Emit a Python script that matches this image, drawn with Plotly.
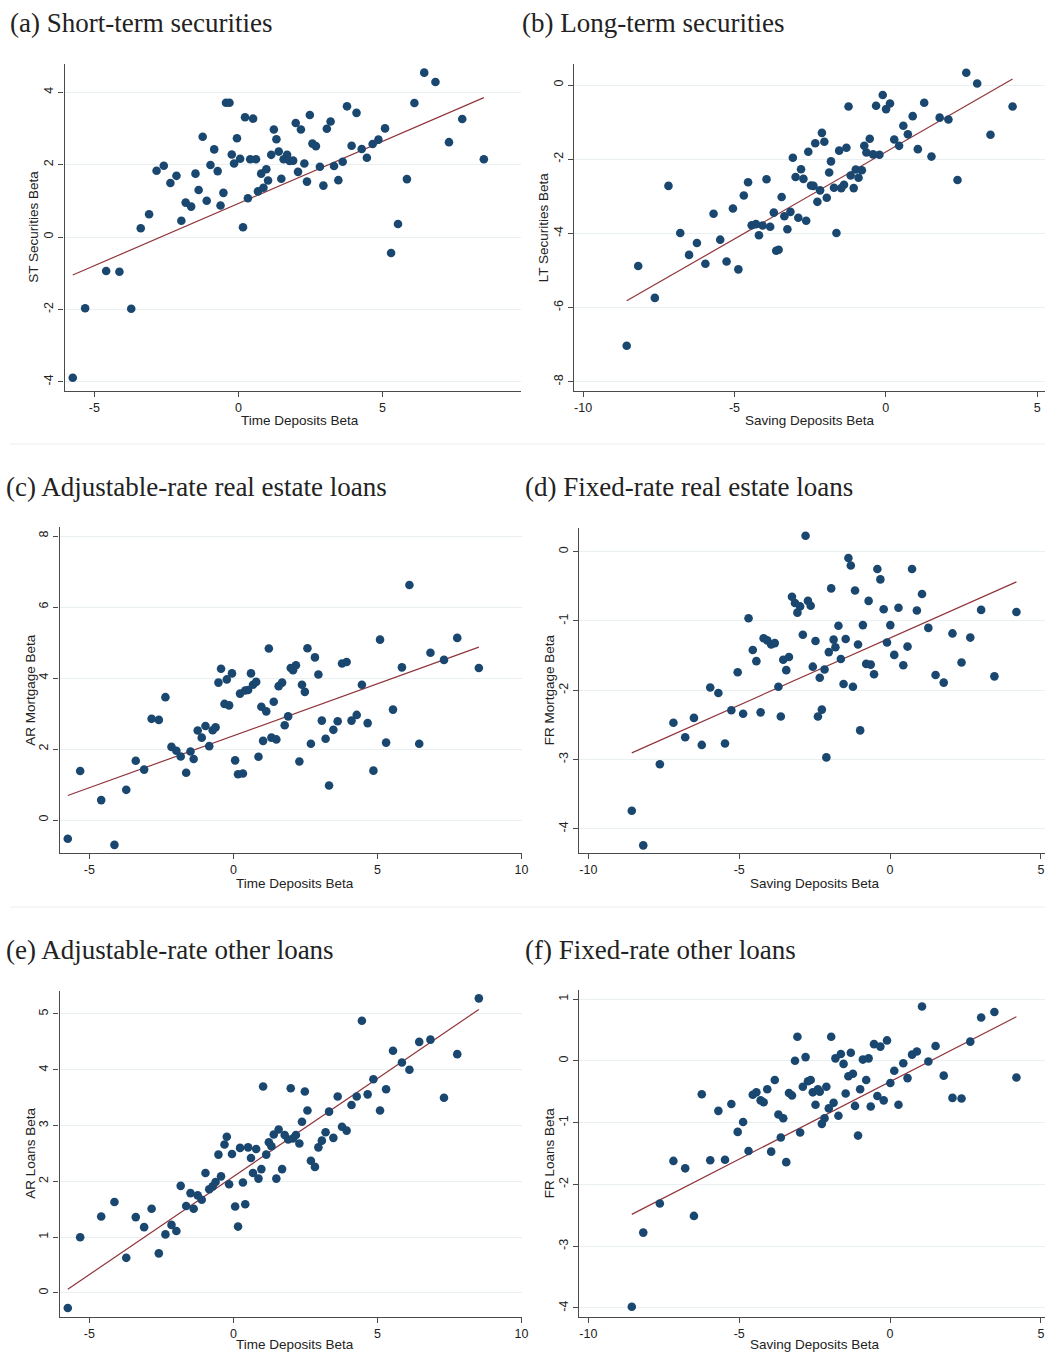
import numpy as np
import plotly.graph_objects as go

# ---------------- data ----------------
time_beta = [-5.75, -5.32, -4.59, -4.13, -3.72, -3.39, -3.10, -2.84, -2.59, -2.36,
             -2.15, -1.98, -1.83, -1.64, -1.49, -1.38, -1.24, -1.10, -0.97, -0.84,
             -0.72, -0.62, -0.52, -0.43, -0.31, -0.23, -0.15, -0.05, 0.06, 0.16,
             0.23, 0.33, 0.41, 0.51, 0.61, 0.68, 0.79, 0.87, 0.97, 1.03,
             1.14, 1.23, 1.32, 1.40, 1.49, 1.57, 1.69, 1.78, 1.90, 1.99,
             2.07, 2.17, 2.29, 2.38, 2.48, 2.57, 2.69, 2.83, 2.95, 3.07,
             3.20, 3.32, 3.47, 3.62, 3.77, 3.93, 4.10, 4.28, 4.46, 4.66,
             4.86, 5.09, 5.30, 5.54, 5.85, 6.11, 6.45, 6.84, 7.31, 7.77, 8.52]

st_beta = [-3.89, -1.97, -0.94, -0.96, -1.98, 0.24, 0.63, 1.83, 1.97, 1.49,
           1.69, 0.45, 0.95, 0.84, 1.75, 1.30, 2.77, 1.00, 1.99, 2.42,
           1.82, 0.87, 1.22, 3.71, 3.71, 2.28, 2.03, 2.73, 2.16, 0.27,
           3.31, 1.07, 2.15, 3.27, 2.15, 1.26, 1.75, 1.36, 1.87, 1.56,
           2.27, 2.97, 2.70, 2.36, 1.61, 2.15, 2.27, 2.10, 2.11, 3.15,
           1.80, 2.97, 2.03, 1.53, 3.37, 2.58, 2.51, 1.94, 1.42, 2.99,
           3.19, 1.96, 1.57, 2.08, 3.61, 2.52, 3.43, 2.43, 2.19, 2.57,
           2.69, 3.00, -0.44, 0.36, 1.60, 3.70, 4.54, 4.28, 2.62, 3.26, 2.15]

ar_mortgage_beta = [-0.53, 1.38, 0.56, -0.70, 0.85, 1.67, 1.42, 2.85, 2.82, 3.46,
                    2.06, 1.95, 1.79, 1.33, 1.93, 1.72, 2.52, 2.32, 2.65, 2.08,
                    2.53, 2.61, 3.87, 4.26, 3.27, 3.96, 3.23, 4.13, 1.68, 1.29,
                    3.56, 1.31, 3.65, 3.66, 4.13, 3.81, 3.89, 1.78, 3.19, 2.23,
                    3.06, 4.83, 2.32, 3.33, 2.27, 3.77, 3.87, 2.67, 2.92, 4.28,
                    4.22, 4.36, 1.65, 3.81, 3.61, 4.84, 2.15, 4.58, 4.10, 2.80,
                    2.29, 0.97, 2.54, 2.78, 4.41, 4.45, 2.80, 2.96, 3.81, 2.73,
                    1.39, 5.08, 2.18, 3.11, 4.30, 6.62, 2.15, 4.71, 4.51, 5.13, 4.28]

ar_loans_beta = [-0.27, 1.00, 1.37, 1.63, 0.63, 1.36, 1.18, 1.51, 0.71, 1.05,
                 1.22, 1.11, 1.92, 1.56, 1.79, 1.51, 1.75, 1.67, 2.15, 1.86,
                 1.91, 1.99, 2.48, 2.09, 2.66, 2.80, 1.95, 2.49, 1.55, 1.19,
                 2.60, 1.98, 1.59, 2.61, 2.42, 2.15, 2.58, 2.05, 2.22, 3.70,
                 2.48, 2.70, 2.63, 2.84, 2.05, 2.93, 2.22, 2.83, 2.75, 3.67,
                 2.77, 2.83, 2.68, 3.07, 3.61, 3.27, 2.37, 2.26, 2.61, 2.73,
                 2.88, 3.25, 2.78, 3.52, 2.98, 2.91, 3.37, 3.52, 4.88, 3.56,
                 3.83, 3.27, 3.65, 4.34, 4.13, 4.00, 4.50, 4.54, 3.50, 4.28, 5.28]

saving_beta = [-8.56, -8.18, -7.63, -7.18, -6.79, -6.50, -6.24, -5.96, -5.69, -5.47,
               -5.26, -5.05, -4.87, -4.69, -4.55, -4.43, -4.29, -4.19, -4.07, -3.94,
               -3.82, -3.70, -3.62, -3.54, -3.44, -3.35, -3.25, -3.15, -3.07, -2.98,
               -2.89, -2.80, -2.72, -2.63, -2.56, -2.47, -2.39, -2.33, -2.26, -2.17,
               -2.11, -2.03, -1.95, -1.87, -1.81, -1.71, -1.63, -1.54, -1.47, -1.38,
               -1.30, -1.23, -1.16, -1.06, -0.99, -0.90, -0.79, -0.71, -0.64, -0.53,
               -0.42, -0.32, -0.21, -0.10, 0.01, 0.14, 0.28, 0.44, 0.58, 0.73,
               0.89, 1.06, 1.27, 1.51, 1.78, 2.07, 2.37, 2.66, 3.02, 3.46, 4.19]

lt_beta = [-7.03, -4.88, -5.74, -2.72, -3.99, -4.58, -4.26, -4.82, -3.47, -4.17,
           -4.76, -3.33, -4.97, -2.98, -2.62, -3.78, -3.75, -4.05, -3.79, -2.54,
           -3.82, -3.44, -4.47, -4.44, -3.02, -3.54, -3.89, -3.42, -1.96, -2.48,
           -3.58, -2.27, -2.53, -3.66, -1.80, -2.71, -2.72, -1.57, -3.15, -2.84,
           -1.29, -1.53, -3.04, -2.36, -2.06, -2.77, -3.99, -1.77, -2.78, -2.69,
           -1.69, -0.58, -2.44, -2.78, -2.28, -2.50, -2.30, -1.64, -1.82, -1.45,
           -1.87, -0.56, -1.88, -0.27, -0.65, -0.50, -1.47, -1.64, -1.10, -1.33,
           -0.84, -1.73, -0.48, -1.93, -0.88, -0.93, -2.56, 0.33, 0.04, -1.34, -0.58]

fr_mortgage_beta = [-3.74, -4.24, -3.07, -2.47, -2.68, -2.40, -2.79, -1.96, -2.04, -2.77,
                    -2.29, -1.74, -2.34, -0.96, -1.42, -1.58, -2.32, -1.25, -1.28, -1.34,
                    -1.32, -1.95, -2.38, -1.56, -1.71, -1.52, -0.65, -0.74, -0.88, -0.79,
                    -1.20, 0.23, -0.71, -0.78, -1.66, -1.29, -2.38, -1.82, -2.28, -1.70,
                    -2.97, -1.45, -0.53, -1.27, -1.38, -1.07, -1.55, -1.91, -1.26, -0.09,
                    -0.20, -1.95, -0.56, -1.34, -2.58, -1.06, -1.62, -0.71, -1.63, -1.77,
                    -0.25, -0.40, -0.83, -1.31, -1.06, -1.49, -0.81, -1.64, -1.37, -0.25,
                    -0.85, -0.61, -1.10, -1.78, -1.89, -1.18, -1.60, -1.24, -0.84, -1.80, -0.87]

fr_loans_beta = [-3.98, -2.78, -2.31, -1.62, -1.74, -2.51, -0.54, -1.61, -0.81, -1.60,
                 -0.70, -1.15, -0.99, -1.46, -0.55, -0.51, -0.64, -0.67, -0.46, -1.47,
                 -0.31, -0.87, -1.24, -0.93, -1.64, -0.52, -0.56, 0.00, 0.39, -1.16,
                 -0.42, 0.06, -0.33, -0.31, -0.51, -0.71, -0.46, -0.50, -1.02, -0.93,
                 -0.42, -0.77, 0.39, -0.68, 0.04, -0.89, 0.11, -0.05, -0.53, -0.25,
                 0.13, -0.21, -0.73, -1.21, -0.46, 0.02, -0.31, 0.04, -0.74, 0.27,
                 -0.57, 0.23, -0.64, 0.33, -0.36, -0.16, -0.71, -0.04, -0.28, 0.10,
                 0.15, 0.88, -0.01, 0.24, -0.24, -0.60, -0.61, 0.31, 0.70, 0.79, -0.27]

# fitted-line coefficients [intercept, slope]
fit_a = [0.925, 0.3434]
fit_b = [-1.805, 0.469]
fit_c = [2.374, 0.2929]
fit_d = [-1.247, 0.1936]
fit_e = [2.087, 0.3514]
fit_f = [-0.338, 0.2508]

panel_titles = ["(a) Short-term securities", "(b) Long-term securities",
                "(c) Adjustable-rate real estate loans", "(d) Fixed-rate real estate loans",
                "(e) Adjustable-rate other loans", "(f) Fixed-rate other loans"]
x_titles = ["Time Deposits Beta", "Saving Deposits Beta"] * 3
y_titles = ["ST Securities Beta", "LT Securities Beta", "AR Mortgage Beta",
            "FR Mortgage Beta", "AR Loans Beta", "FR Loans Beta"]
x_ticks = [[-5, 0, 5, 10], [-10, -5, 0, 5], [-5, 0, 5, 10], [-10, -5, 0, 5],
           [-5, 0, 5, 10], [-10, -5, 0, 5]]
y_ticks = [[-4, -2, 0, 2, 4], [-8, -6, -4, -2, 0], [0, 2, 4, 6, 8],
           [-4, -3, -2, -1, 0], [0, 1, 2, 3, 4, 5], [-4, -3, -2, -1, 0, 1]]
xs = [time_beta, saving_beta] * 3
ys = [st_beta, lt_beta, ar_mortgage_beta, fr_mortgage_beta, ar_loans_beta, fr_loans_beta]
fits = [fit_a, fit_b, fit_c, fit_d, fit_e, fit_f]

# ---------------- layout geometry (pixels) ----------------
W, H = 1052, 1353
geo = [
    dict(px=(65, 524.5), py=(64.3, 391), xr=(-6.034, 9.81), yr=(-4.254, 4.771)),
    dict(px=(578, 1052), py=(64.3, 391), xr=(-10.296, 5.261), yr=(-8.25, 0.558)),
    dict(px=(60, 525), py=(526.7, 853.3), xr=(-6.034, 10.001), yr=(-0.938, 8.262)),
    dict(px=(583.3, 1052), py=(528.3, 853.3), xr=(-10.296, 5.137), yr=(-4.355, 0.338)),
    dict(px=(60, 525), py=(991, 1316.7), xr=(-6.034, 10.001), yr=(-0.425, 5.412)),
    dict(px=(583.3, 1052), py=(990, 1316.7), xr=(-10.296, 5.137), yr=(-4.141, 1.146)),
]
title_pos = [(8, 23), (523, 23), (4, 487), (527, 487), (4, 950), (527, 950)]
xtitle_pos = [(302, 420), (815, 420), (297, 883), (820, 883), (297, 1344), (820, 1344)]
ytitle_pos = [(34, 227), (548, 227), (30, 690), (553, 690), (30, 1153), (553, 1153)]

def fx(p):
    return p / W

def fy(p):
    return 1 - p / H

NAVY = "#1a476f"
MAROON = "#90353b"
AXC = "#4a4a4a"
SANS = "Liberation Sans, Arial"

fig = go.Figure()
layout = dict(width=W, height=H, margin=dict(l=0, r=0, t=0, b=0),
              paper_bgcolor="white", plot_bgcolor="white", showlegend=False)
annotations = []
shapes = []

for i in range(6):
    g = geo[i]
    xa = "xaxis" if i == 0 else f"xaxis{i+1}"
    ya = "yaxis" if i == 0 else f"yaxis{i+1}"
    xref = "x" if i == 0 else f"x{i+1}"
    yref = "y" if i == 0 else f"y{i+1}"
    x = np.array(xs[i], dtype=float)
    y = np.array(ys[i], dtype=float)
    icpt, slope = fits[i]
    xl = np.array([x.min(), x.max()])
    fig.add_trace(go.Scatter(x=xl, y=icpt + slope * xl, mode="lines",
                             line=dict(color=MAROON, width=1.2),
                             xaxis=xref, yaxis=yref, hoverinfo="skip"))
    fig.add_trace(go.Scatter(x=x, y=y, mode="markers",
                             marker=dict(color=NAVY, size=8.6, line=dict(width=0)),
                             xaxis=xref, yaxis=yref))
    layout[xa] = dict(domain=[fx(g["px"][0]), fx(g["px"][1])], range=list(g["xr"]),
                      anchor=yref, showline=True, linecolor=AXC, linewidth=1.3,
                      ticks="outside", ticklen=5, tickwidth=1.2, tickcolor=AXC,
                      tickvals=x_ticks[i], ticktext=[str(v) for v in x_ticks[i]],
                      showgrid=False, zeroline=False,
                      tickfont=dict(family=SANS, size=12.5, color="#222"))
    layout[ya] = dict(domain=[fy(g["py"][1]), fy(g["py"][0])], range=list(g["yr"]),
                      anchor=xref, showline=True, linecolor=AXC, linewidth=1.3,
                      ticks="outside", ticklen=5, tickwidth=1.2, tickcolor=AXC,
                      tickvals=y_ticks[i], ticktext=[str(v) for v in y_ticks[i]],
                      tickangle=-90, showgrid=True,
                      gridcolor="#e8f0f1", gridwidth=1, zeroline=False,
                      tickfont=dict(family=SANS, size=12.5, color="#222"))
    tx, ty = title_pos[i]
    annotations.append(dict(text=panel_titles[i], x=fx(tx), y=fy(ty), xref="paper", yref="paper",
                            xanchor="left", yanchor="middle", showarrow=False,
                            font=dict(family="Liberation Serif", size=27, color="#222")))
    ax_, ay_ = xtitle_pos[i]
    annotations.append(dict(text=x_titles[i], x=fx(ax_), y=fy(ay_), xref="paper", yref="paper",
                            xanchor="center", yanchor="middle", showarrow=False,
                            font=dict(family=SANS, size=13.5, color="#222")))
    bx, by = ytitle_pos[i]
    annotations.append(dict(text=y_titles[i], x=fx(bx), y=fy(by), xref="paper", yref="paper",
                            xanchor="center", yanchor="middle", showarrow=False, textangle=-90,
                            font=dict(family=SANS, size=13.5, color="#222")))

for sy in (444, 907):
    shapes.append(dict(type="line", xref="paper", yref="paper", x0=fx(10), x1=1,
                       y0=fy(sy), y1=fy(sy), line=dict(color="#eeeeee", width=1)))

layout["annotations"] = annotations
layout["shapes"] = shapes
fig.update_layout(**layout)
fig.write_html("out.html", config={"displayModeBar": False},
               post_script="document.body.style.margin='0px';")
